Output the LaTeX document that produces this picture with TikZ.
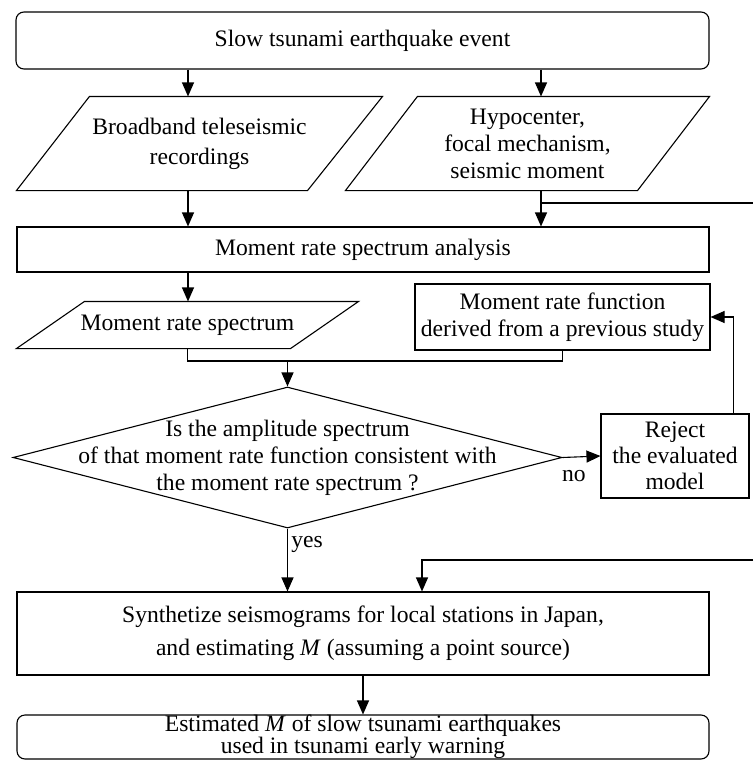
\documentclass[tikz,border=0pt]{standalone}
\usepackage{fontspec}
\setmainfont{Liberation Serif}
\usetikzlibrary{arrows.meta,positioning,shapes.geometric}

\begin{document}
\begin{tikzpicture}[
  x=1pt, y=-1pt,
  font=\fontsize{23.6}{27}\selectfont,
  line width=1.1pt,
  procbox/.style={rectangle, draw, inner sep=0pt, align=center},
  termbox/.style={procbox, rounded corners=8pt},
  databox/.style={rectangle, inner sep=0pt, align=center},
  decbox/.style={diamond, draw, inner sep=0pt},
  arr/.style={-{Triangle[length=14pt,width=12pt]}}
]
\useasboundingbox (0,0) rectangle (753,760);

% columns used by the vertical connectors
\coordinate (colA) at (188,0);
\coordinate (colB) at (541,0);
\coordinate (colC) at (422,0);

\node[termbox, minimum width=693, minimum height=57] (event) at (362.5,40.5)
  {Slow tsunami earthquake event};
\node[databox, minimum width=365, minimum height=93,
  font=\fontsize{23.6}{30}\selectfont] (bb) at (199.5,143.5)
  {Broadband teleseismic\\recordings};
\node[databox, minimum width=363, minimum height=93] (hyp) at (527.5,143.5)
  {Hypocenter,\\focal mechanism,\\seismic moment};
\node[procbox, minimum width=692, minimum height=45] (ana) at (363,249.5)
  {Moment rate spectrum analysis};
\node[databox, minimum width=341, minimum height=46] (spec) at (187.5,325)
  {Moment rate spectrum};
\node[procbox, minimum width=295, minimum height=66] (func) at (562.5,317)
  {Moment rate function\\derived from a previous study};
\node[decbox, minimum width=549, minimum height=141,
  label={[align=center]center:Is the amplitude spectrum\\
    of that moment rate function consistent with\\
    the moment rate spectrum ?}] (dec) at (287.5,457.5) {};
\node[procbox, minimum width=148, minimum height=84,
  font=\fontsize{23.6}{26}\selectfont] (rej) at (675,456)
  {Reject\\the evaluated\\model};
\node[procbox, minimum width=692, minimum height=83,
  font=\fontsize{23.6}{33}\selectfont] (syn) at (363,633.5)
  {Synthetize seismograms for local stations in Japan,\\
   and estimating \textit{M} (assuming a point source)};
\node[termbox, minimum width=692, minimum height=44,
  font=\fontsize{23.6}{22}\selectfont] (res) at (363,737)
  {Estimated \textit{M} of slow tsunami earthquakes\\
   used in tsunami early warning};

% parallelogram outlines of the data boxes
\draw ([xshift=73pt]bb.north west) -- (bb.north east)
  -- ([xshift=-75pt]bb.south east) -- (bb.south west) -- cycle;
\draw ([xshift=72pt]hyp.north west) -- (hyp.north east)
  -- ([xshift=-72pt]hyp.south east) -- (hyp.south west) -- cycle;
\draw ([xshift=68pt]spec.north west) -- (spec.north east)
  -- ([xshift=-68pt]spec.south east) -- (spec.south west) -- cycle;

% free ends at the right margin
\coordinate (outA) at (753,203);
\coordinate (outB) at (753,560);
\coordinate (jn) at (287.5,361);

\draw[arr] (event.south -| colA) -- (bb.north -| colA);
\draw[arr] (event.south -| colB) -- (hyp.north -| colB);
\draw[arr] (bb.south -| colA) -- (ana.north -| colA);
\draw[arr] (hyp.south -| colB) -- (ana.north -| colB);
\draw (outA -| colB) -- (outA);
\draw[arr] (ana.south -| colA) -- (spec.north -| colA);
\draw (spec.south) |- (jn) -| (func.south);
\draw[arr] (jn) -- (dec.north);
\draw[arr] (dec.east) -- (rej.west) node[pos=0.3, below=9pt] {no};
\draw[arr] ([xshift=-16pt]rej.north east) |- (func.east);
\draw[arr] (dec.south) -- (syn.north -| dec.south) node[pos=0.25, right] {yes};
\draw[arr] (outB) -| (syn.north -| colC);
\draw[arr] (syn.south) -- (res.north);

\end{tikzpicture}
\end{document}
